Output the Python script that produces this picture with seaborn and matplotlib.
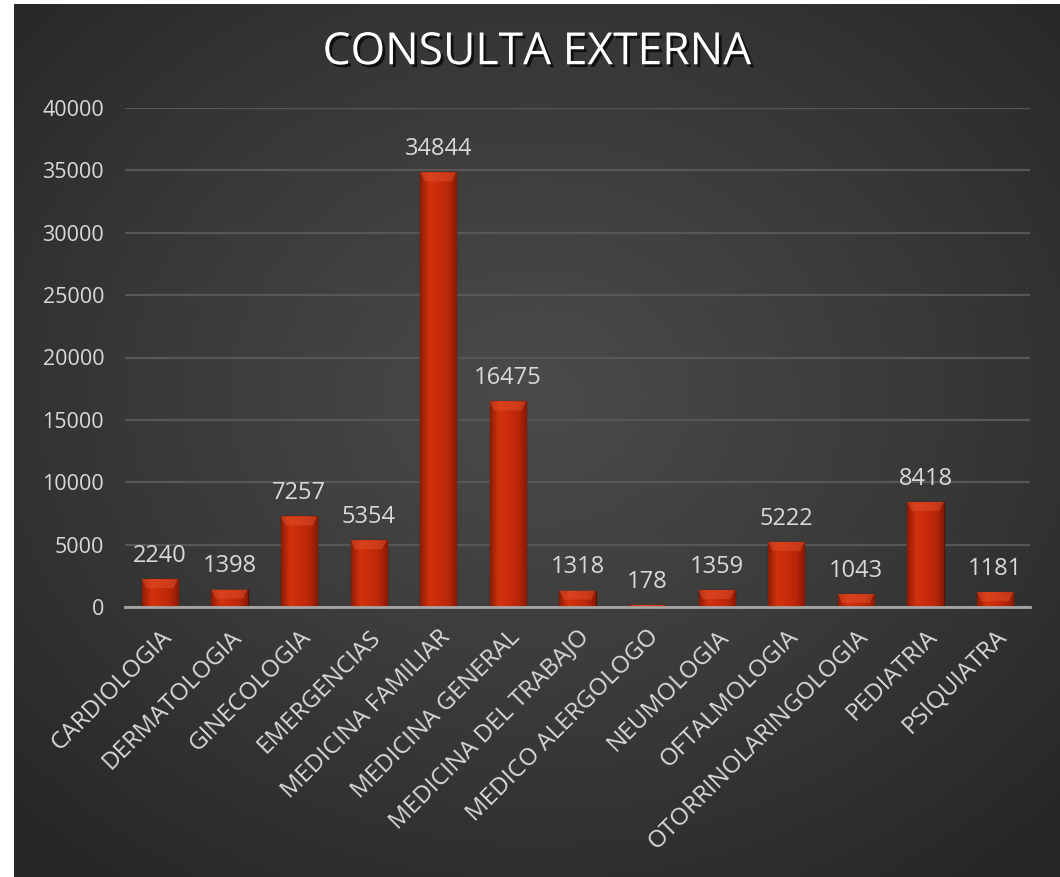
import numpy as np
import pandas as pd
import matplotlib
matplotlib.use("Agg")
import matplotlib.pyplot as plt
import matplotlib.patheffects as pe
from matplotlib.colors import LinearSegmentedColormap
from matplotlib.patches import Polygon
import seaborn as sns

# Datos
especialidades = ['CARDIOLOGIA', 'DERMATOLOGIA', 'GINECOLOGIA', 'EMERGENCIAS',
                  'MEDICINA FAMILIAR', 'MEDICINA GENERAL', 'MEDICINA DEL TRABAJO',
                  'MEDICO ALERGOLOGO', 'NEUMOLOGIA', 'OFTALMOLOGIA',
                  'OTORRINOLARINGOLOGIA', 'PEDIATRIA', 'PSIQUIATRA']
consultas = [2240, 1398, 7257, 5354, 34844, 16475, 1318, 178, 1359, 5222, 1043, 8418, 1181]
yticks = [0, 5000, 10000, 15000, 20000, 25000, 30000, 35000, 40000]

df = pd.DataFrame({'Especialidad': especialidades, 'Consultas': consultas})

sns.set_style('dark')
plt.rcParams['font.family'] = ['Open Sans', 'DejaVu Sans']

W, H = 1060, 877
fig = plt.figure(figsize=(W / 100, H / 100), dpi=100)
fig.patch.set_facecolor('white')

# fondo con degradado radial
bg = fig.add_axes([14 / W, 0, 1 - 14 / W, 1 - 4 / H])
yy, xx = np.mgrid[0:1:300j, 0:1:300j]
r = np.sqrt(((xx - 0.5) / 0.75) ** 2 + ((yy - 0.45) / 0.75) ** 2)
r = np.clip(r / 0.95, 0, 1)
bg_cmap = LinearSegmentedColormap.from_list('bg', ['#4b4b4b', '#3a3a3a', '#262626'])
bg.imshow(r, cmap=bg_cmap, extent=[0, 1, 0, 1], aspect='auto', origin='upper', vmin=0, vmax=1)
bg.set_axis_off()

ax = fig.add_axes([125 / W, 1 - 607 / H, (1030 - 125) / W, (607 - 108) / H])
ax.patch.set_alpha(0)

sns.barplot(data=df, x='Especialidad', y='Consultas', color='#c0290a', width=0.52,
            saturation=1, ax=ax, zorder=3)

ax.set_ylim(0, 40000)
ax.set_xlim(-0.5, len(especialidades) - 0.5)
ax.set_yticks(yticks)
ax.yaxis.grid(True, color='#575757', linewidth=1.6, zorder=0)
ax.xaxis.grid(False)
for s in ['top', 'right', 'left']:
    ax.spines[s].set_visible(False)
ax.spines['bottom'].set_color('#a6a6a6')
ax.spines['bottom'].set_linewidth(2)
ax.spines['bottom'].set_zorder(5)
ax.set_xlabel('')
ax.set_ylabel('')

ax.tick_params(axis='y', colors='#d9d9d9', labelsize=15.5, length=0, pad=15)
ax.tick_params(axis='x', colors='#d9d9d9', labelsize=17.5, length=0, pad=13)
ax.set_xticks(range(len(especialidades)))
ax.set_xticklabels(especialidades, rotation=45, ha='right', va='top', rotation_mode='anchor')

# degradado en las barras
bar_cmap = LinearSegmentedColormap.from_list(
    'bar', ['#8e1c05', '#d3330e', '#c92c0b', '#bb270a', '#8a1a04'])
grad = np.linspace(0, 1, 64).reshape(1, -1)
bevel_units = 40000 / (607 - 108) * 9
bars = list(ax.patches)
for p in bars:
    x0, w, h = p.get_x(), p.get_width(), p.get_height()
    p.set_edgecolor('#5a1203')
    p.set_linewidth(1.0)
    im = ax.imshow(grad, cmap=bar_cmap, extent=[x0, x0 + w, 0, h], aspect='auto',
                   zorder=3.5, origin='lower')
    im.set_clip_path(p)
    b = min(bevel_units, h)
    inset = w * 0.12
    bevel = Polygon([[x0, h], [x0 + w, h], [x0 + w - inset, h - b], [x0 + inset, h - b]],
                    closed=True, facecolor='#e0502a', edgecolor='none', alpha=0.5, zorder=3.6)
    ax.add_patch(bevel)

ax.set_xlim(-0.5, len(especialidades) - 0.5)
ax.set_ylim(0, 40000)

ax.bar_label(ax.containers[0], labels=[str(v) for v in consultas], padding=8,
             color='#d9d9d9', fontsize=17, zorder=6)

fig.text(0.507, 1 - 53 / H, 'CONSULTA EXTERNA', ha='center', va='center',
         color='white', fontsize=32,
         path_effects=[pe.SimplePatchShadow(offset=(2, -2), shadow_rgbFace='black', alpha=0.7),
                       pe.Normal()])

fig.savefig('out.png', dpi=100, facecolor=fig.get_facecolor())
